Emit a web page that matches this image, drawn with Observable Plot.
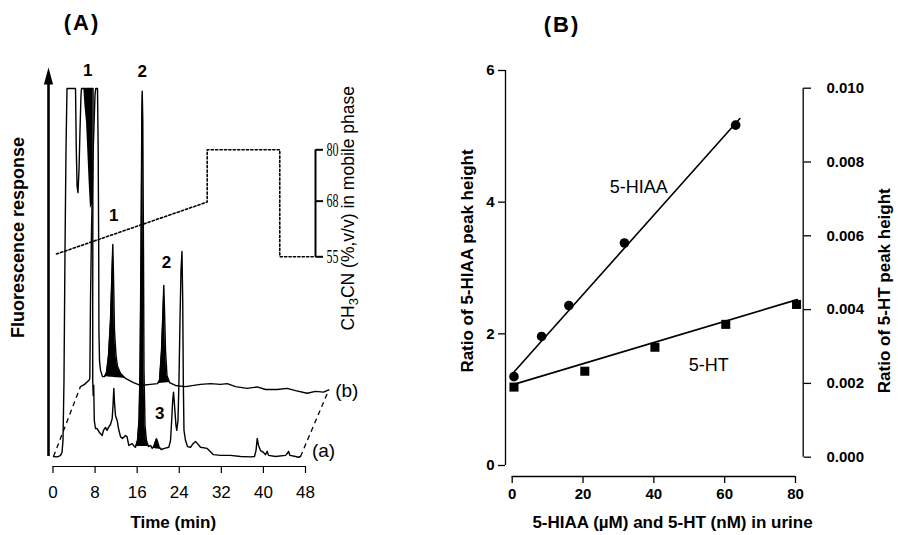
<!DOCTYPE html>
<html>
<head>
<meta charset="utf-8">
<script src="https://cdn.jsdelivr.net/npm/d3@7"></script>
<script src="https://cdn.jsdelivr.net/npm/@observablehq/plot@0.6"></script>
<style>
  html, body { margin: 0; padding: 0; background: #fff; }
  #wrap { position: relative; width: 898px; height: 535px; overflow: hidden; }
  #wrap svg { position: absolute; left: 0; top: 0; }
  .panel { position: absolute; transform: translate(-50%, -50%); font: bold 22px "Liberation Sans", Arial, sans-serif; letter-spacing: 2px; color: #000; }
</style>
</head>
<body>
<div id="wrap">
  <div class="panel" style="left:82px; top:23px">(A)</div>
  <div class="panel" style="left:562px; top:25px">(B)</div>
</div>
<script>
// ---------------- Panel A: chromatograms ----------------
// trace (a): time (min) vs fluorescence response (% of recorder full scale; 100 = off-scale)
const traceATime = [0.10,0.67,1.05,1.43,1.71,1.90,2.09,2.28,2.47,2.66,4.28,4.43,4.58,4.75,4.94,5.13,5.32,5.42,7.62,7.58,7.55,7.55,7.64,7.74,7.85,8.08,8.40,8.84,9.35,9.60,9.98,10.27,10.55,10.93,11.25,11.41,11.56,11.69,11.88,12.20,12.45,12.83,13.21,13.78,14.07,14.41,15.06,15.49,15.68,16.06,16.35,16.54,16.73,16.88,16.96,17.07,17.20,17.30,17.49,17.77,18.15,18.53,18.86,19.16,19.48,19.68,19.87,20.15,20.57,21.20,22.01,22.34,22.56,22.75,22.91,23.10,23.38,23.53,23.76,23.95,24.14,24.33,24.52,24.66,24.77,24.90,25.19,25.57,26.14,26.52,27.09,27.47,28.04,29.31,30.51,31.84,33.74,35.64,37.54,38.30,38.59,38.82,39.07,39.45,40.02,40.40,40.72,40.97,42.30,44.20,44.52,44.77,45.05,46.10,46.67,47.05];
const traceAResp = [0,-0.1,0,0.3,1.1,4.3,20.7,56,83.2,100,100,83.2,73.4,71.7,77.7,88.6,98.1,100,100,69.6,42.4,20.7,16.6,19.3,9.8,7.6,7.6,6.5,5.7,7.1,7.9,7.1,7.9,8.7,10.3,13.9,18.5,14.7,11.1,9.8,7.6,5.4,4.9,5.7,5.4,3.0,3.5,2.7,2.5,4.35,9.8,23.4,56,91.3,99.3,91.3,56,23.4,8.4,4.35,2.7,3.0,2.2,2.7,4.1,4.8,4.1,2.7,1.9,2.2,2.5,4.35,9.8,15.2,17.5,13.9,8.4,7.1,9.8,20.7,37,50.5,55.7,42.4,20.7,7.1,4.35,2.7,2.5,3.3,4.1,3.5,2.5,2.2,0.5,0.3,0.3,0,-0.1,0,1.6,4.9,3.0,1.6,1.1,0.5,1.4,0.3,0,0.3,0.8,1.4,0.3,0,-0.2,0];
// trace (b): drawn offset in time and response
const traceBTime = [5.23,5.99,6.84,7.00,7.13,7.32,7.64,7.98,8.12,8.46,8.59,8.69,8.73,8.84,9.03,9.41,9.79,10.17,10.55,10.93,11.22,11.37,11.50,11.69,11.98,12.26,12.83,13.78,15.30,16.63,18.53,19.87,20.25,20.63,20.91,21.06,21.20,21.39,21.67,22.15,23.29,25.19,28.04,29.94,31.84,33.12,34.70,36.92,38.82,40.40,42.62,44.52,46.10,48.32,49.90,51.42,52.43];
const traceBResp = [19.0,19.6,20.7,21.2,42.4,61.4,83.2,98.1,100,100,83.2,56.0,34.2,26.1,23.4,21.7,21.7,22.8,27.4,37.0,50.5,57.6,49.2,34.2,27.4,24.5,22.6,21.2,20.1,19.3,19.6,19.8,20.7,28.8,39.7,46.5,39.7,28.8,22.0,20.1,19.3,19.0,19.6,19.8,19.6,19.8,19.0,18.5,18.9,18.2,18.2,18.5,17.9,17.2,17.7,17.5,18.1];
// black-filled peaks: [start, end] retention windows (min)
const peakWindowsA = [[15.49, 18.15], [18.86, 20.57]];
const peakWindowsB = [[9.79, 13.78], [19.87, 22.15]];
// off-scale peak 1 of trace (a): lower edge of its filled area
const peak1aTime  = [5.86, 6.08, 6.37, 6.65, 6.90, 7.13, 7.51, 7.62];
const peak1aLower = [100, 95.1, 90.8, 81.8, 73.6, 67.4, 68.5, 100];
const clipTop = 100;
const arrowTip = 105.7;
// peak labels
const peakLabels    = ["1", "2", "1", "2", "3"];
const peakLabelTime = [6.6, 16.96, 11.56, 21.58, 20.3];
const peakLabelResp = [104.9, 104.6, 65.5, 52.7, 11.7];
const timeTicks = [0, 8, 16, 24, 32, 40, 48];
// mobile-phase gradient
const gradTime  = [0.67, 29.31, 29.31, 43.11, 43.11, 49.90];
const gradCH3CN = [55.65, 67.8, 80, 80, 55, 55];
const gradTicks = [55, 68, 80];

// ---------------- Panel B: calibration ----------------
const hiaaConc  = [0.5, 8.3, 16.0, 31.7, 63.1];
const hiaaRatio = [1.35, 1.96, 2.43, 3.38, 5.17];
const hiaaFitConc  = [0, 64.3];
const hiaaFitRatio = [1.39, 5.27];
const htConc  = [0.5, 20.5, 40.3, 60.3, 80.3];
const htRatio = [0.00190, 0.00233, 0.00298, 0.00360, 0.00414];
const htFitConc  = [0, 80.5];
const htFitRatio = [0.00196, 0.00427];
const concTicks = [0, 20, 40, 60, 80];
const hiaaTicks = [0, 2, 4, 6];
const htTicks = [0, 0.002, 0.004, 0.006, 0.008, 0.010];

// ---------------- helpers ----------------
const W = 898, H = 535;
const SANS = '"Liberation Sans", Arial, Helvetica, sans-serif';
const NARROW = '"Liberation Sans Narrow", "Arial Narrow", "Liberation Sans", Arial, sans-serif';
const SERIF = '"Liberation Serif", "Times New Roman", serif';
const rows = (xs, ys) => xs.map((x, i) => ({x, y: ys[i]}));
const A = rows(traceATime, traceAResp);
const B = rows(traceBTime, traceBResp);
function peakFill(data, [t0, t1], key) {
  const seg = data.filter(d => d.x >= t0 && d.x <= t1);
  const a = seg[0], b = seg[seg.length - 1];
  return seg.map(d => ({x: d.x, top: d.y, base: a.y + (b.y - a.y) * (d.x - a.x) / (b.x - a.x), k: key}));
}
const fills = [
  ...peakWindowsA.flatMap((w, i) => peakFill(A, w, "a" + i)),
  ...peakWindowsB.flatMap((w, i) => peakFill(B, w, "b" + i))
];
const style = {background: "none", overflow: "visible", fontFamily: SANS, color: "#000"};
const xTime = {domain: [0, 48], range: [52.5, 305]};
const centered = {textAnchor: "middle", lineAnchor: "middle"};

// ---- Panel A main ----
const plotA = Plot.plot({
  width: W, height: H,
  marginLeft: 52.5, marginRight: W - 305, marginTop: 88, marginBottom: H - 466,
  x: xTime,
  y: {domain: [0, 100], range: [456, 88], axis: null},
  style,
  marks: [
    Plot.areaY(fills, {x: "x", y1: "base", y2: "top", z: "k", fill: "black"}),
    Plot.areaY(rows(peak1aTime, peak1aLower), {x: "x", y1: "y", y2: () => clipTop, fill: "black"}),
    Plot.line(A, {x: "x", y: "y", stroke: "black", strokeWidth: 1.4}),
    Plot.line(B, {x: "x", y: "y", stroke: "black", strokeWidth: 1.4}),
    Plot.link([[A[0], B[0]], [A[A.length - 1], B[B.length - 1]]], {
      x1: d => d[0].x, y1: d => d[0].y, x2: d => d[1].x, y2: d => d[1].y,
      stroke: "black", strokeWidth: 1.3, strokeDasharray: "5,4"
    }),
    Plot.ruleX([timeTicks[0]], {y1: 0, y2: arrowTip - 4, dx: -4.5, strokeWidth: 2.6}),
    Plot.dot([timeTicks[0]], {x: d => d, y: () => arrowTip, dx: -4.5, symbol: "triangle", r: 5, fill: "black", stroke: "none"}),
    Plot.text(peakLabels.map((t, i) => ({t, x: peakLabelTime[i], y: peakLabelResp[i]})),
      {x: "x", y: "y", text: "t", fontWeight: "bold", fontSize: 17, fontFamily: NARROW}),
    Plot.text([A[A.length - 1]], {x: "x", y: "y", text: () => "(a)", dx: 23, dy: -6, fontSize: 19, fontFamily: NARROW}),
    Plot.text([B[B.length - 1]], {x: "x", y: "y", text: () => "(b)", dx: 18, dy: 1, fontSize: 19, fontFamily: NARROW}),
    Plot.ruleY([0], {x1: timeTicks[0], x2: timeTicks[timeTicks.length - 1], dy: 10, strokeWidth: 1.2}),
    Plot.axisX({ticks: timeTicks, tickSize: 7, tickPadding: 12, fontSize: 17, fontFamily: SANS, label: null, strokeWidth: 1.2}),
    Plot.text(["Time (min)"], {...centered, text: d => d, frameAnchor: "bottom", dx: -6, dy: 56, fontWeight: "bold", fontSize: 17, fontFamily: SANS, letterSpacing: 1.5}),
    Plot.text(["Fluorescence response"], {...centered, text: d => d, frameAnchor: "left", rotate: -90, dx: -34.5, dy: -40, fontWeight: "bold", fontSize: 18, fontFamily: SANS, letterSpacing: 1.8})
  ]
});

// ---- Panel A gradient overlay ----
const plotG = Plot.plot({
  width: W, height: H,
  marginLeft: 52.5, marginRight: W - 315, marginTop: 149.3, marginBottom: H - 256.3,
  x: {...xTime, axis: null},
  y: {domain: [55, 80], axis: null},
  style,
  marks: [
    Plot.line(rows(gradTime, gradCH3CN), {x: "x", y: "y", stroke: "black", strokeWidth: 1.6, strokeDasharray: "2.2,2.2"}),
    Plot.ruleX([gradTime[gradTime.length - 1]], {y1: gradTicks[0], y2: gradTicks[gradTicks.length - 1], strokeWidth: 2}),
    Plot.axisY({anchor: "right", ticks: gradTicks, tickSize: 7, tickPadding: 4, strokeWidth: 2, fontFamily: SERIF, fontSize: 18, label: null}),
    Plot.text(["CH3CN (%,v/v) in mobile phase"], {...centered, text: d => d, frameAnchor: "right", rotate: -90, dx: 32.5, dy: 5, fontSize: 17.5, fontFamily: SANS})
  ]
});

// ---- Panel B main (5-HIAA, left axis) ----
const plotB = Plot.plot({
  width: W, height: H,
  marginLeft: 505, marginRight: W - 795, marginTop: 70, marginBottom: H - 465,
  x: {domain: [0, 80], range: [511.7, 795]},
  y: {domain: [0, 6]},
  style,
  marks: [
    Plot.ruleX([concTicks[0]], {y1: hiaaTicks[0], y2: hiaaTicks[hiaaTicks.length - 1], dx: -6.7, strokeWidth: 1.3}),
    Plot.axisY({anchor: "left", ticks: hiaaTicks, tickFormat: d => String(d), tickSize: 7, tickPadding: 4, strokeWidth: 1.3, fontSize: 15, fontWeight: "bold", fontFamily: SANS, label: null}),
    Plot.ruleY([hiaaTicks[0]], {x1: concTicks[0], x2: concTicks[concTicks.length - 1], dy: 11, strokeWidth: 1.3}),
    Plot.axisX({ticks: concTicks, tickFormat: d => String(d), tickSize: 7, tickPadding: 5, dy: 11, strokeWidth: 1.3, fontSize: 15, fontWeight: "bold", fontFamily: SANS, label: null}),
    Plot.line(rows(hiaaFitConc, hiaaFitRatio), {x: "x", y: "y", stroke: "black", strokeWidth: 1.6}),
    Plot.dot(rows(hiaaConc, hiaaRatio), {x: "x", y: "y", r: 4.8, fill: "black", stroke: "none"}),
    Plot.text(["5-HIAA"], {...centered, text: d => d, frameAnchor: "top-left", dx: 133.3, dy: 116.7, fontSize: 18, fontFamily: SANS}),
    Plot.text(["5-HT"], {...centered, text: d => d, frameAnchor: "top-left", dx: 203.3, dy: 295, fontSize: 18, fontFamily: SANS}),
    Plot.text(["Ratio of 5-HIAA peak height"], {...centered, text: d => d, frameAnchor: "left", rotate: -90, dx: -38, dy: -7, fontWeight: "bold", fontSize: 17, fontFamily: SANS, letterSpacing: 0.5}),
    Plot.text(["5-HIAA (\u00b5M) and 5-HT (nM) in urine"], {...centered, text: d => d, frameAnchor: "bottom", dx: 22, dy: 57, fontWeight: "bold", fontSize: 17, fontFamily: SANS, letterSpacing: 2})
  ]
});

// ---- Panel B overlay (5-HT, right axis) ----
const plotR = Plot.plot({
  width: W, height: H,
  marginLeft: 505, marginRight: W - 802.7, marginTop: 87.7, marginBottom: H - 456.7,
  x: {domain: [0, 80], range: [511.7, 795], axis: null},
  y: {domain: [0, 0.010]},
  style,
  marks: [
    Plot.ruleX([concTicks[concTicks.length - 1]], {y1: htTicks[0], y2: htTicks[htTicks.length - 1], dx: 7.7, strokeWidth: 1.3}),
    Plot.axisY({anchor: "right", ticks: htTicks, tickFormat: d3.format(".3f"), tickSize: 7.3, tickPadding: 16, strokeWidth: 1.3, fontSize: 15, fontWeight: "bold", fontFamily: SANS, label: null}),
    Plot.line(rows(htFitConc, htFitRatio), {x: "x", y: "y", stroke: "black", strokeWidth: 1.6}),
    Plot.dot(rows(htConc, htRatio), {x: "x", y: "y", symbol: "square", r: 5.1, fill: "black", stroke: "none"}),
    Plot.text(["Ratio of 5-HT peak height"], {...centered, text: d => d, frameAnchor: "right", rotate: -90, dx: 81.3, dy: 18, fontWeight: "bold", fontSize: 17, fontFamily: SANS, letterSpacing: 0.5})
  ]
});

const wrap = document.getElementById("wrap");
[plotA, plotG, plotB, plotR].forEach(p => wrap.appendChild(p));

// slender filled arrowhead for the response axis
d3.select(plotA).selectAll('g[aria-label="dot"] path').attr("d", "M0,0L4.6,17L-4.6,17Z");
// condensed serif tick labels on the gradient axis
d3.select(plotG).selectAll("text").filter(function () { return /^\d+$/.test(this.textContent.trim()); })
  .attr("textLength", 12).attr("lengthAdjust", "spacingAndGlyphs");
// subscript 3 in CH3CN
d3.select(plotG).selectAll("text").filter(function () { return this.textContent.startsWith("CH3CN"); }).each(function () {
  const t = d3.select(this);
  t.text(null);
  t.append("tspan").text("CH");
  t.append("tspan").attr("dy", 4).attr("font-size", 13).text("3");
  t.append("tspan").attr("dy", -4).text("CN (%,v/v) in mobile phase");
});
</script>
</body>
</html>
